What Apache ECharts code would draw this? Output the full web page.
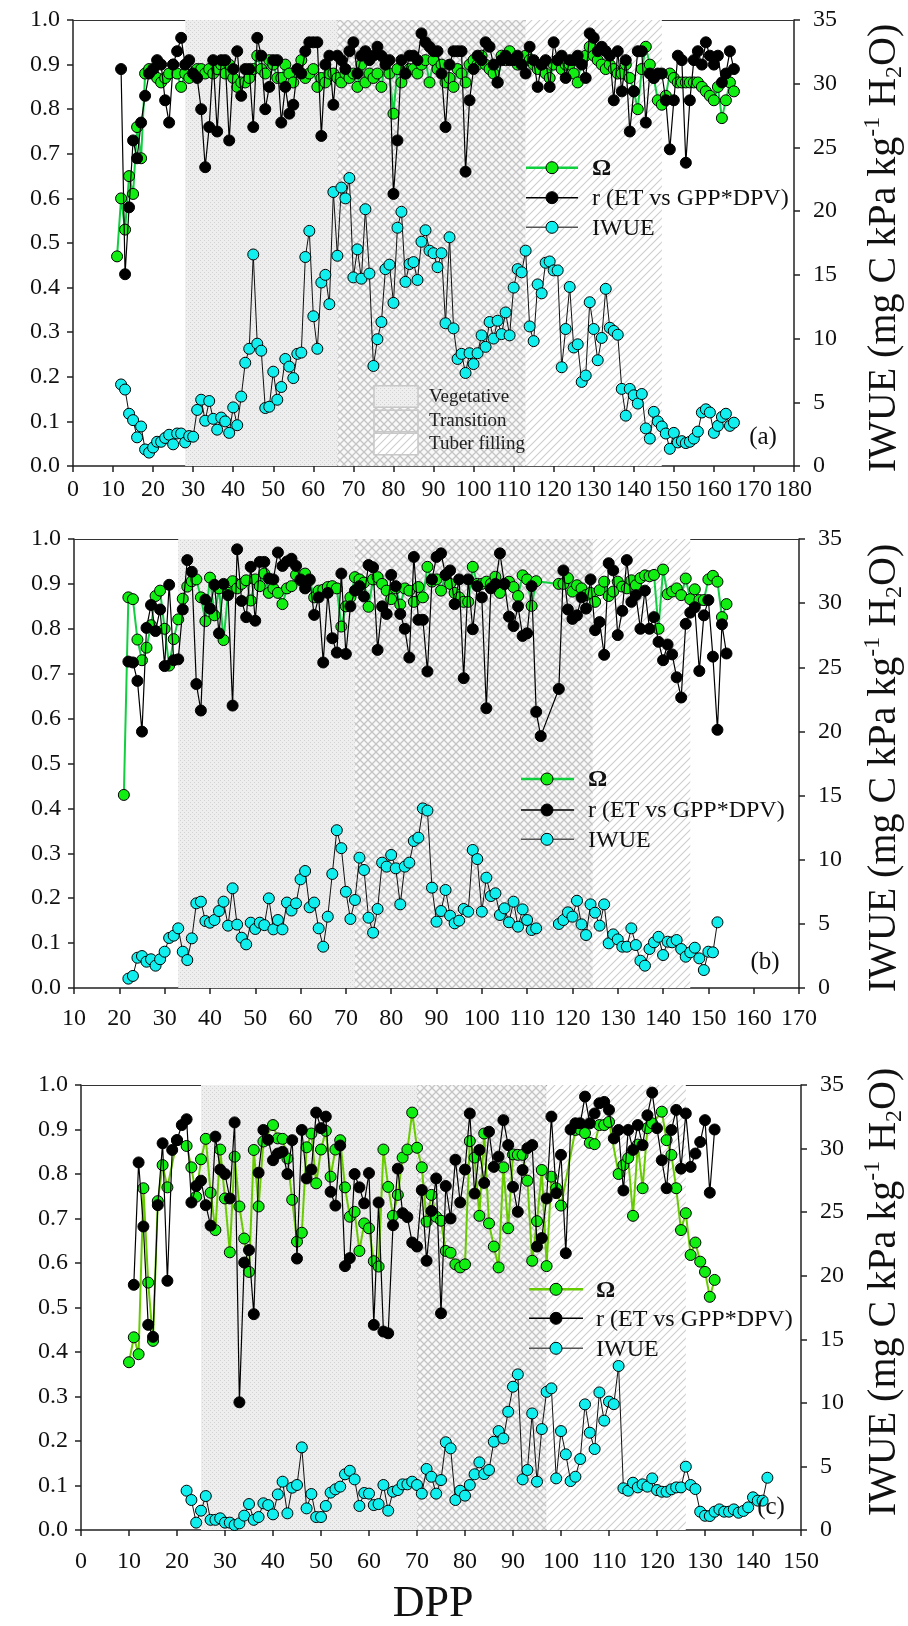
<!DOCTYPE html>
<html><head><meta charset="utf-8">
<script src="https://cdn.jsdelivr.net/npm/echarts@6/dist/echarts.min.js"></script>
<style>html,body{margin:0;padding:0;background:#fff}#c{width:908px;height:1626px}</style>
</head><body><div id="c"></div>
<script>
// ---------------- DATA ----------------
// Panel (a): daily values, first day 11
const startA = 11;
const omegaA = [.47,.60,.53,.65,.61,.76,.69,.88,.89,.88,
.87,.86,.87,.88,.90,.88,.85,.88,.87,.88,
.89,.89,.88,.89,.88,.89,.90,.88,.90,.87,
.85,.86,.86,.87,.89,.92,.89,.88,.91,.90,
.87,.87,.90,.88,.86,.89,.91,.87,.88,.89,
.85,.87,.86,.88,.88,.87,.86,.88,.87,.88,
.85,.90,.86,.88,.87,.88,.85,.91,.88,.79,
.89,.86,.88,.89,.89,.88,.90,.91,.86,.91,
.89,.90,.86,.87,.85,.89,.88,.86,.90,.91,
.90,.92,.90,.89,.88,.86,.92,.91,.93,.91,
.90,.91,.92,.91,.90,.89,.90,.88,.87,.90,
.91,.89,.90,.90,.88,.86,.91,.92,.94,.92,
.91,.90,.89,.90,.89,.88,.88,.90,.87,.84,
.80,.89,.94,.90,.87,.82,.81,.83,.88,.87,
.86,.86,.86,.86,.86,.86,.85,.84,.83,.82,
.85,.78,.82,.86,.84];
const rA = [null,.89,.43,.58,.73,.69,.77,.83,.88,.89,
.91,.90,.82,.77,.90,.93,.96,.90,.91,.88,
.87,.80,.67,.76,.91,.75,.91,.91,.73,.89,
.93,.83,.89,.89,.76,.96,.92,.80,.85,.91,
.91,.77,.85,.79,.81,.89,.88,.93,.95,.95,
.95,.74,.90,.92,.81,.92,.91,.89,.93,.95,
.88,.92,.93,.91,.92,.94,.92,.90,.91,.61,
.73,.91,.88,.92,.92,.91,.97,.95,.94,.93,
.93,.88,.76,.90,.93,.93,.93,.66,.82,.89,
.92,.91,.95,.94,.90,.86,.91,.92,.91,.91,
.92,.90,.88,.94,.91,.85,.90,.91,.85,.95,
.91,.92,.87,.91,.91,.92,.90,.87,.97,.96,
.93,.94,.93,.92,.82,.93,.84,.91,.75,.84,
.93,.93,.77,.88,.87,.88,.88,.82,.71,.82,
.92,.91,.68,.82,.91,.93,.90,.95,.92,.90,
.92,.86,.88,.93,.89];
const iwueA = [null,6.4,6.0,4.1,3.6,2.25,3.1,1.3,1.05,1.45,
1.9,1.9,2.2,2.45,1.7,2.55,2.55,1.85,2.35,2.3,
4.4,5.2,3.55,5.1,3.7,2.85,3.8,3.5,2.6,4.6,
3.2,5.45,8.1,9.2,16.6,9.6,9.05,4.55,4.65,7.4,
5.2,6.2,8.4,7.8,6.9,8.8,8.9,16.4,18.45,11.75,
9.2,14.4,15.0,12.7,21.5,16.5,21.85,21.0,22.6,14.8,
17.0,14.7,20.15,15.1,7.85,9.95,11.3,15.45,15.8,12.8,
18.7,19.95,14.45,15.85,16.0,14.6,17.6,18.5,16.9,16.7,
15.6,16.7,11.2,17.95,10.8,8.4,8.8,7.3,8.85,8.0,
8.85,10.25,9.35,11.3,10.0,11.4,10.35,12.05,10.25,14.0,
15.45,15.2,16.9,10.95,9.8,14.25,13.55,15.95,16.05,15.35,
15.35,7.75,10.75,14.05,9.3,9.55,6.6,7.1,12.85,10.75,
8.3,10.05,13.9,10.85,10.6,10.3,6.05,3.95,6.05,5.55,
4.9,5.65,2.95,2.15,4.25,3.5,3.1,2.55,1.35,2.6,
1.85,1.95,1.8,1.9,2.15,2.7,4.2,4.45,4.2,2.6,
3.15,3.85,4.1,3.15,3.4];
const phasesA = [28, 66, 113, 147];

// Panel (b): daily values, first day 21
const startB = 21;
const omegaB = [.43,.87,.866,.776,.73,.758,.808,.873,.885,.80,
.718,.777,.821,.867,.894,.906,.91,.87,.817,.914,
.83,.89,.775,.88,.906,.89,.90,.908,.863,.91,
.895,.923,.88,.89,.88,.855,.89,.895,.92,.908,
.923,.908,.87,.885,.887,.893,.895,.89,.805,.85,
.87,.915,.91,.903,.849,.91,.915,.90,.885,.866,
.89,.854,.89,.885,.86,.893,.87,.938,.905,.91,
.885,.92,.90,.88,.87,.86,.86,.938,.90,.90,
.905,.90,.916,.88,.90,.905,.893,.873,.919,.91,
.851,.906,null,null,null,null,.90,.90,.913,.883,
.897,.89,.875,.88,.86,.886,.905,.873,.883,.905,
.894,.89,.908,.897,.913,.919,.917,.92,.80,.932,
.877,.883,.89,.875,.912,.866,.888,.864,.864,.91,
.918,.905,.826,.855];
const rB = [null,.727,.725,.684,.571,.802,.853,.795,.843,.717,
.898,.73,.732,.843,.953,.927,.677,.618,.865,.845,
.898,.79,.90,.875,.629,.977,.862,.826,.938,.818,
.949,.949,.912,.91,.97,.94,.95,.956,.94,.91,
.89,.91,.831,.87,.725,.88,.779,.747,.923,.744,
.85,.885,.895,.872,.942,.937,.753,.85,.833,.92,
.895,.833,.80,.736,.96,.82,.82,.705,.91,.96,
.968,.92,.93,.855,.91,.69,.91,.799,.895,.87,
.623,.89,.90,.968,.90,.827,.806,.85,.784,.79,
.895,.615,.561,null,null,null,.666,.93,.843,.822,
.83,.87,.845,.91,.797,.815,.742,.946,.93,.786,
.84,.953,.86,.875,.80,.885,.80,.826,.771,.73,
.765,.743,.692,.647,.811,.836,.848,.706,.83,.864,
.738,.575,.81,.745];
const iwueB = [null,.73,.94,2.36,2.49,2.05,2.24,1.74,2.24,2.83,
3.9,4.08,4.65,2.83,2.18,3.87,6.6,6.73,5.22,5.09,
5.3,6.0,6.73,4.86,7.77,4.94,3.92,3.4,5.09,4.6,
5.09,4.9,6.99,4.57,5.3,4.57,6.66,6.04,6.6,8.47,
9.12,6.29,6.66,4.65,3.22,5.56,8.89,12.3,10.9,7.5,
5.38,6.86,10.16,9.2,5.48,4.31,6.16,9.77,9.46,10.37,
9.33,6.52,9.46,9.77,11.46,11.72,14.0,13.83,7.82,5.17,
6.0,7.64,5.64,5.04,5.25,6.16,5.95,10.76,10.05,5.95,
8.6,7.17,7.38,5.69,6.21,5.12,6.73,4.78,6.13,5.3,
4.52,4.65,null,null,null,null,4.99,5.3,5.9,5.56,
6.8,4.96,4.13,6.52,5.87,4.86,6.52,3.48,4.18,3.79,
3.22,3.22,4.65,3.35,2.13,1.74,3.04,3.56,3.99,2.57,
3.61,3.56,3.74,3.04,2.44,2.78,3.14,2.31,1.4,2.83,
2.78,5.12,null,null];
const phasesB = [33, 72, 124.5, 146];

// Panel (c): daily values, first day 10
const startC = 10;
const omegaC = [.377,.433,.395,.768,.556,.425,.739,.82,.77,null,
.876,null,.863,.815,.749,.833,.879,.758,.674,.855,
.745,.624,.839,.727,.655,.58,.854,.727,.873,null,
.91,.88,.879,.835,.742,.648,.668,.86,.891,.779,
.855,.897,.794,.855,.876,.77,.704,.715,.627,.689,
.678,.604,.592,.855,.771,.706,.753,.837,.855,.938,
.859,.815,.693,.753,.704,.695,.627,.623,.597,.59,
.597,.874,.837,.706,.891,.689,.637,.59,.815,.678,
.844,.843,.843,.785,.605,.694,.809,.593,.794,.768,
.729,null,null,.899,.90,.892,.87,.867,.91,.91,
.917,null,.80,.82,.836,.706,.866,.768,.903,.914,
null,.94,.876,.843,.768,.674,.712,.618,.646,.603,
.58,.524,.562,null,null,null,null,null,null,null,
null,null,null,null];
const rC = [null,.551,.826,.682,.461,.434,.73,.869,.56,.854,
.876,.91,.923,.736,.773,.785,.73,.684,.884,.81,
.80,.745,.916,.287,.601,.629,.485,.803,.899,.877,
.831,.846,.85,.80,.876,.61,.899,.79,.81,.938,
.903,.929,.76,.729,.864,.593,.611,.80,.77,.734,
.802,.461,.736,.446,.442,.685,.812,.712,.703,.646,
.637,.764,.605,.717,.79,.487,.773,.70,.832,.736,
.81,.936,.756,.854,.78,.895,.816,.839,.921,.865,
.771,.715,.809,.858,.865,.637,.656,.745,.929,.757,
.843,.622,.90,.914,.914,.974,.914,.936,.959,.962,
.944,.88,.899,.763,.899,.854,.91,.865,.932,.983,
.903,.831,.768,.899,.944,.812,.936,.816,.846,.872,
.921,.758,.90,null,null,null,null,null,null,null,
null,null,null,null];
const iwueC = [null,null,null,null,null,null,null,null,null,null,
null,null,3.09,2.36,0.58,1.52,2.67,0.8,0.8,0.92,
0.58,0.58,0.39,0.52,1.13,2.04,0.8,1.02,2.1,1.96,
1.23,2.8,3.8,1.31,3.33,3.54,6.5,1.7,2.83,1.02,
1.02,1.89,2.94,3.2,3.41,4.38,4.66,3.98,1.89,2.91,
2.86,1.96,2.04,3.54,1.52,3.01,3.14,3.59,3.59,3.8,
3.54,2.86,4.8,4.19,2.86,3.93,6.9,6.42,2.36,3.09,
2.7,3.54,4.38,5.32,4.4,4.72,6.94,7.78,7.2,9.3,
11.27,12.24,3.98,4.72,9.17,3.8,7.94,10.87,11.14,4.06,
7.78,5.95,3.85,4.19,5.58,9.88,7.65,6.37,10.82,8.6,
10.1,9.9,12.9,3.28,3.09,3.72,3.35,3.59,3.41,4.06,
3.14,3.01,3.01,3.2,3.35,3.35,4.98,3.54,3.22,1.44,
1.12,1.1,1.44,1.62,1.44,1.44,1.62,1.36,1.5,1.78,
2.57,2.31,2.31,4.11];
const phasesC = [25, 70, 97, 126];

const xRanges = [[0, 180], [10, 170], [0, 150]];
const seriesNames = ['Ω', 'r (ET vs GPP*DPV)', 'IWUE'];
const phaseNames = ['Vegetative', 'Transition', 'Tuber filling'];
const panelLetters = ['(a)', '(b)', '(c)'];

// ---------------- STYLE ----------------
const FONT = '"Liberation Serif", "DejaVu Serif", serif';
function pat(kind) {
  const c = document.createElement('canvas');
  const ctx = c.getContext('2d');
  if (kind === 'veg') {
    c.width = 4; c.height = 4;
    ctx.fillStyle = '#eeeeee'; ctx.fillRect(0, 0, 4, 4);
    ctx.fillStyle = '#d2d2d2'; ctx.fillRect(0, 0, 1, 1); ctx.fillRect(2, 2, 1, 1);
  } else if (kind === 'trans') {
    c.width = 8; c.height = 8;
    ctx.fillStyle = '#f8f8f8'; ctx.fillRect(0, 0, 8, 8);
    ctx.strokeStyle = '#c4c4c4'; ctx.lineWidth = 1.3;
    ctx.beginPath(); ctx.moveTo(0, 0); ctx.lineTo(8, 8); ctx.moveTo(8, 0); ctx.lineTo(0, 8); ctx.stroke();
  } else {
    c.width = 8; c.height = 8;
    ctx.fillStyle = '#ffffff'; ctx.fillRect(0, 0, 8, 8);
    ctx.strokeStyle = '#cdcdcd'; ctx.lineWidth = 1.1;
    ctx.beginPath(); ctx.moveTo(0, 8); ctx.lineTo(8, 0); ctx.moveTo(-1, 1); ctx.lineTo(1, -1); ctx.moveTo(7, 9); ctx.lineTo(9, 7); ctx.stroke();
  }
  return { image: c, repeat: 'repeat' };
}
const patterns = [pat('veg'), pat('trans'), pat('tuber')];

const grids = [
  { left: 73, top: 20, width: 721, height: 446 },
  { left: 74, top: 539, width: 725, height: 449 },
  { left: 81, top: 1085, width: 720, height: 445 }
];
const xLabelMargin = [12, 19, 20];
const omegaLine = ['#10d040', '#10d040', '#66cc00'];
const omegaFill = '#11ee11';
const cyanFill = '#11eeee';

const panels = [
  { start: startA, om: omegaA, r: rA, iw: iwueA, ph: phasesA },
  { start: startB, om: omegaB, r: rB, iw: iwueB, ph: phasesB },
  { start: startC, om: omegaC, r: rC, iw: iwueC, ph: phasesC }
];
function pairs(start, arr) { return arr.map((v, i) => [start + i, v == null ? '-' : v]); }

const xAxes = [], yAxes = [], series = [];
const axisLineStyle = { color: '#222', width: 1.5 };
panels.forEach((p, k) => {
  xAxes.push({
    gridIndex: k, type: 'value', min: xRanges[k][0], max: xRanges[k][1], interval: 10, position: 'bottom',
    axisLine: { show: true, onZero: false, lineStyle: axisLineStyle },
    axisTick: { show: true, length: 6, lineStyle: axisLineStyle },
    axisLabel: { fontSize: 24, fontFamily: FONT, color: '#111', margin: xLabelMargin[k] },
    splitLine: { show: false }
  });
  xAxes.push({
    gridIndex: k, type: 'value', min: xRanges[k][0], max: xRanges[k][1], position: 'top',
    axisLine: { show: true, onZero: false, lineStyle: { color: '#333', width: 1.2 } },
    axisTick: { show: false }, axisLabel: { show: false }, splitLine: { show: false }
  });
  yAxes.push({
    gridIndex: k, type: 'value', min: 0, max: 1, interval: 0.1, position: 'left',
    axisLine: { show: true, onZero: false, lineStyle: axisLineStyle },
    axisTick: { show: true, length: 6, lineStyle: axisLineStyle },
    axisLabel: { fontSize: 24, fontFamily: FONT, color: '#111', margin: 13, formatter: v => v.toFixed(1) },
    splitLine: { show: false }
  });
  yAxes.push({
    gridIndex: k, type: 'value', min: 0, max: 35, interval: 5, position: 'right',
    axisLine: { show: true, onZero: false, lineStyle: axisLineStyle },
    axisTick: { show: true, length: 6, lineStyle: axisLineStyle },
    axisLabel: { fontSize: 24, fontFamily: FONT, color: '#111', margin: 19 },
    splitLine: { show: false }
  });
  series.push({
    type: 'line', xAxisIndex: 2 * k, yAxisIndex: 2 * k, data: [], z: 1, silent: true,
    markArea: {
      silent: true,
      data: [0, 1, 2].map(j => [{ xAxis: p.ph[j], itemStyle: { color: patterns[j], borderWidth: 0 } }, { xAxis: p.ph[j + 1] }])
    }
  });
  series.push({
    name: seriesNames[0], type: 'line', xAxisIndex: 2 * k, yAxisIndex: 2 * k, z: 3,
    data: pairs(p.start, p.om), connectNulls: true,
    symbol: 'circle', symbolSize: 11, showAllSymbol: true,
    itemStyle: { color: omegaFill, borderColor: '#000', borderWidth: 1 },
    lineStyle: { color: omegaLine[k], width: 2 }
  });
  series.push({
    name: seriesNames[1], type: 'line', xAxisIndex: 2 * k, yAxisIndex: 2 * k, z: 4,
    data: pairs(p.start, p.r), connectNulls: true,
    symbol: 'circle', symbolSize: 11, showAllSymbol: true,
    itemStyle: { color: '#000', borderColor: '#000', borderWidth: 1 },
    lineStyle: { color: '#000', width: 1.2 }
  });
  series.push({
    name: seriesNames[2], type: 'line', xAxisIndex: 2 * k, yAxisIndex: 2 * k + 1, z: 5,
    data: pairs(p.start, p.iw), connectNulls: false,
    symbol: 'circle', symbolSize: 11, showAllSymbol: true,
    itemStyle: { color: cyanFill, borderColor: '#000', borderWidth: 1 },
    lineStyle: { color: '#111', width: 1 }
  });
});

// ---------------- GRAPHIC (legends, titles) ----------------
const graphic = [];
function txt(x, y, text, size, opts) {
  return Object.assign({
    type: 'text', x: x, y: y, z: 100,
    style: Object.assign({ text: text, fontSize: size, fontFamily: FONT, fill: '#111',
      align: 'left', verticalAlign: 'middle', textAlign: 'left', textVerticalAlign: 'middle' }, (opts && opts.style) || {})
  }, (opts && opts.el) || {});
}
const legendPos = [
  { ys: [167.7, 197.7, 227.3], x0: 526, x1: 578, xm: 552, xt: 592 },
  { ys: [779, 810, 839.3], x0: 521, x1: 574, xm: 547, xt: 588 },
  { ys: [1289.3, 1318.3, 1348.3], x0: 529, x1: 583, xm: 556, xt: 596 }
];
legendPos.forEach((L, k) => {
  const lineCols = [omegaLine[k], '#000', '#555'];
  const fills = [omegaFill, '#000', cyanFill];
  for (let j = 0; j < 3; j++) {
    const y = L.ys[j];
    graphic.push({ type: 'line', z: 100, shape: { x1: L.x0, y1: y, x2: L.x1, y2: y }, style: { stroke: lineCols[j], lineWidth: j === 0 ? 2.5 : 1.5 } });
    graphic.push({ type: 'circle', z: 101, shape: { cx: L.xm, cy: y, r: 6 }, style: { fill: fills[j], stroke: '#000', lineWidth: 1 } });
    graphic.push(txt(L.xt, y + 1, seriesNames[j], 24, { style: j === 0 ? { fontWeight: 'bold' } : {} }));
  }
});
// phase legend (panel a)
const phaseBoxY = [385.7, 410.3, 433.3];
for (let j = 0; j < 3; j++) {
  graphic.push({ type: 'rect', z: 100, shape: { x: 374, y: phaseBoxY[j], width: 44, height: 21.5 },
    style: { fill: patterns[j], stroke: '#c8c8c8', lineWidth: 1.5 } });
  graphic.push(txt(429, phaseBoxY[j] + 11, phaseNames[j], 19, { style: { fill: '#222' } }));
}
// panel letters
const letterPos = [[763, 437], [765, 962], [771, 1507]];
letterPos.forEach((pp, k) => graphic.push(txt(pp[0], pp[1], panelLetters[k], 25, { style: { align: 'center', textAlign: 'center' } })));
// right axis titles
const titleY = [248, 768, 1292];
titleY.forEach(ty => {
  graphic.push({
    type: 'text', x: 884, y: ty, rotation: Math.PI / 2, z: 100,
    style: {
      text: '{a|IWUE (mg C kPa kg}{s|-1}{a| H}{b|2}{a|O)}',
      align: 'center', verticalAlign: 'middle', textAlign: 'center', textVerticalAlign: 'middle',
      fill: '#111',
      rich: {
        a: { fontSize: 40, fontFamily: FONT, fill: '#111', lineHeight: 46 },
        s: { fontSize: 24, fontFamily: FONT, fill: '#111', lineHeight: 24, verticalAlign: 'top' },
        b: { fontSize: 24, fontFamily: FONT, fill: '#111', lineHeight: 24, verticalAlign: 'bottom' }
      }
    }
  });
});
graphic.push(txt(433, 1604, 'DPP', 44, { style: { align: 'center', textAlign: 'center' } }));

const chart = echarts.init(document.getElementById('c'), null, { renderer: 'canvas' });
chart.setOption({
  animation: false,
  backgroundColor: '#fff',
  grid: grids,
  xAxis: xAxes,
  yAxis: yAxes,
  series: series,
  graphic: graphic
});
</script>
</body></html>
